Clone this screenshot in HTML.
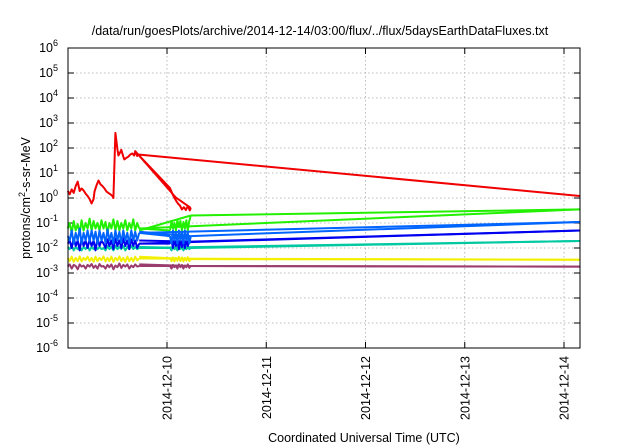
<!DOCTYPE html>
<html><head><meta charset="utf-8"><style>
body{margin:0;background:#fff}
svg{display:block;font-family:"Liberation Sans",sans-serif}
</style></head><body>
<svg id="chart" width="640" height="448" viewBox="0 0 640 448">
<text x="320" y="35" text-anchor="middle" font-size="12.5">/data/run/goesPlots/archive/2014-12-14/03:00/flux/../flux/5daysEarthDataFluxes.txt</text>
<g id="grid"></g>
<g id="axes"></g>
<g id="series"></g>
<rect x="68" y="48" width="512" height="300" fill="none" stroke="#000" stroke-width="1"/>
<text transform="translate(30,198) rotate(-90)" text-anchor="middle" font-size="12.5">protons/cm<tspan dy="-5" font-size="9">2</tspan><tspan dy="5">-s-sr-MeV</tspan></text>
<text x="364" y="442" text-anchor="middle" font-size="12.5">Coordinated Universal Time (UTC)</text>
</svg>
<script>
const xTickLabels=["2014-12-10","2014-12-11","2014-12-12","2014-12-13","2014-12-14"];
const xTickDays=[1,2,3,4,5];
const yExps=[-6,-5,-4,-3,-2,-1,0,1,2,3,4,5,6];
const tEnd=5.16;
const tEarly=[0,0.02,0.04,0.06,0.08,0.1,0.12,0.14,0.16,0.18,0.2,0.22,0.24,0.26,0.28,0.3,0.32,0.34,0.36,0.38,0.4,0.42,0.44,0.46,0.48,0.5,0.52,0.54,0.56,0.58,0.6,0.62,0.64,0.66,0.68,0.7,0.72];
const tLate=[1.03,1.045,1.06,1.075,1.09,1.105,1.12,1.135,1.15,1.165,1.18,1.195,1.21,1.225,1.24];
const redT=[0,0.02,0.04,0.06,0.08,0.1,0.12,0.14,0.16,0.18,0.2,0.22,0.24,0.26,0.27,0.29,0.31,0.33,0.35,0.37,0.39,0.41,0.43,0.45,0.46,0.48,0.5,0.51,0.53,0.54,0.56,0.57,0.59,0.61,0.63,0.65,0.67,0.68,0.7,0.71];
const redV=[1.9,1.4,2.2,1.6,3.0,4.5,1.9,2.4,2.0,1.5,1.2,0.9,0.6,0.9,1.8,3.2,5.0,3.5,3.0,2.4,1.8,1.6,1.4,1.2,1.0,400,90,50,70,85,45,35,40,45,55,60,50,75,48,55];
const redLateT=[1.03,1.05,1.07,1.09,1.11,1.13,1.15,1.17,1.19,1.21,1.23,1.24];
const redLateV=[2.5,1.6,1.1,0.8,0.6,0.5,0.35,0.43,0.33,0.48,0.32,0.4];
const redEnd=1.2;
const greenEarly=[0.06,0.1,0.04,0.12,0.05,0.09,0.04,0.13,0.05,0.1,0.06,0.15,0.05,0.12,0.06,0.1,0.05,0.13,0.06,0.11,0.04,0.1,0.06,0.14,0.05,0.12,0.05,0.1,0.06,0.13,0.05,0.1,0.06,0.14,0.05,0.1,0.06];
const greenLate=[0.05,0.12,0.06,0.1,0.05,0.13,0.07,0.12,0.05,0.11,0.06,0.13,0.05,0.12,0.2];
const greenEnd=0.35;
const lblueEarly=[0.03,0.02,0.05,0.015,0.04,0.02,0.06,0.015,0.04,0.02,0.05,0.018,0.05,0.02,0.045,0.015,0.05,0.02,0.04,0.016,0.055,0.02,0.04,0.015,0.05,0.02,0.045,0.016,0.05,0.02,0.04,0.015,0.05,0.02,0.045,0.02,0.04];
const lblueLate=[0.03,0.015,0.05,0.02,0.04,0.015,0.05,0.02,0.045,0.015,0.05,0.02,0.04,0.015,0.03];
const lblueEnd=0.11;
const blueEarly=[0.015,0.02,0.01,0.025,0.012,0.02,0.008,0.025,0.012,0.02,0.01,0.022,0.012,0.02,0.008,0.025,0.012,0.02,0.015,0.01,0.022,0.012,0.02,0.009,0.024,0.012,0.02,0.01,0.025,0.012,0.02,0.009,0.022,0.012,0.02,0.01,0.015];
const blueLate=[0.015,0.02,0.01,0.022,0.012,0.02,0.009,0.022,0.011,0.02,0.01,0.022,0.012,0.02,0.018];
const blueEnd=0.05;
const tealEarly=[0.011,0.009,0.012,0.008,0.011,0.009,0.012,0.008,0.011,0.009,0.012,0.008,0.011,0.009,0.012,0.009,0.011,0.009,0.01,0.008,0.012,0.009,0.011,0.008,0.012,0.009,0.011,0.009,0.012,0.008,0.011,0.009,0.012,0.009,0.011,0.009,0.01];
const tealLate=[0.01,0.008,0.011,0.009,0.01,0.008,0.011,0.009,0.011,0.008,0.01,0.009,0.011,0.009,0.01];
const tealEnd=0.019;
const yellowEarly=[0.004,0.003,0.0045,0.0028,0.004,0.003,0.0046,0.0029,0.004,0.0033,0.0045,0.003,0.004,0.0028,0.0045,0.003,0.004,0.0033,0.0046,0.0029,0.004,0.003,0.0045,0.0028,0.004,0.0032,0.0046,0.003,0.004,0.0028,0.0045,0.003,0.004,0.0029,0.0045,0.0032,0.0038];
const yellowLate=[0.0038,0.003,0.0042,0.0029,0.004,0.0031,0.0044,0.003,0.0042,0.0029,0.004,0.0031,0.0043,0.003,0.0036];
const yellowEnd=0.0034;
const purpleEarly=[0.0018,0.0022,0.0015,0.0021,0.0019,0.0014,0.0022,0.0018,0.002,0.0015,0.0021,0.0018,0.0023,0.0016,0.002,0.0015,0.0023,0.0018,0.0019,0.0015,0.0021,0.0017,0.0022,0.0014,0.002,0.0017,0.0024,0.0016,0.0021,0.0018,0.0022,0.0015,0.002,0.0017,0.0022,0.0018,0.0019];
const purpleLate=[0.0019,0.0015,0.0021,0.0017,0.002,0.0015,0.0022,0.0017,0.0021,0.0015,0.002,0.0017,0.0022,0.0016,0.0019];
const purpleEnd=0.0018;

const NS="http://www.w3.org/2000/svg";
const X=d=>167+(d-1)*99.25;
const Y=v=>198-25*Math.log10(v);
function mk(tag,attrs,parent){const e=document.createElementNS(NS,tag);for(const k in attrs)e.setAttribute(k,attrs[k]);parent.appendChild(e);return e;}
const grid=document.getElementById('grid'),axes=document.getElementById('axes'),ser=document.getElementById('series');
yExps.forEach(e=>{
  const y=198-25*e;
  if(e>-6&&e<6){const g=mk('line',{x1:68,x2:580,y1:y,y2:y,stroke:'#aaa','stroke-width':0.8,'stroke-dasharray':'1.5,2.5'},grid);
  
  }
  const t1=mk('line',{x1:68,x2:74,y1:y,y2:y,stroke:'#000'},axes);
  
  
  const t2=mk('line',{x1:574,x2:580,y1:y,y2:y,stroke:'#000'},axes);
  
  
  const tx=mk('text',{x:58,y:y+4,'text-anchor':'end','font-size':'12.5'},axes);
  
  
  tx.appendChild(document.createTextNode('10'));
  const sp=mk('tspan',{dy:-6,'font-size':'9'},tx);sp.textContent=String(e);
});
xTickDays.forEach((d,i)=>{
  const x=X(d);
  const g=mk('line',{x1:x,x2:x,y1:48,y2:348,stroke:'#aaa','stroke-width':0.8,'stroke-dasharray':'1.5,2.5'},grid);
  
  
  const t=mk('line',{x1:x,x2:x,y1:342,y2:348,stroke:'#000'},axes);
  
  
  const t2=mk('line',{x1:x,x2:x,y1:48,y2:54,stroke:'#000'},axes);
  
  
  const tx=mk('text',{transform:`translate(${x+4.5},356) rotate(-90)`,'text-anchor':'end','font-size':'12.5'},axes);
  
  
  tx.textContent=xTickLabels[i];
});
function pl(ts,vs,color,name){
  const p=mk('polyline',{points:ts.map((t,i)=>X(t).toFixed(1)+','+Y(vs[i]).toFixed(1)).join(' '),fill:'none',stroke:color,'stroke-width':2,'stroke-linejoin':'round'},ser);
  
  
}
function series(early,late,end,color,name){
  pl(tEarly,early,color,name+'-early');
  pl([tEarly[tEarly.length-1],tLate[0]],[early[early.length-1],late[0]],color,name+'-bridge');
  pl([tEarly[tEarly.length-1],tLate[tLate.length-1]],[early[early.length-3],late[late.length-1]],color,name+'-bridge2');
  pl(tLate,late,color,name+'-late');
  pl([tEarly[tEarly.length-1],tEnd],[early[early.length-1],end],color,name+'-to-end');
  pl([tLate[tLate.length-1],tEnd],[late[late.length-1],end],color,name+'-late-to-end');
}
series(purpleEarly,purpleLate,purpleEnd,'#9a3d6e','purple-series');
series(yellowEarly,yellowLate,yellowEnd,'#f2f000','yellow-series');
series(tealEarly,tealLate,tealEnd,'#00c8a0','teal-series');
series(greenEarly,greenLate,greenEnd,'#22f000','green-series');
series(blueEarly,blueLate,blueEnd,'#0000f0','blue-series');
series(lblueEarly,lblueLate,lblueEnd,'#0064ff','lightblue-series');
pl(redT,redV,'#f00000','red-early');
pl([redT[redT.length-1]].concat(redLateT),[redV[redV.length-1]].concat(redLateV),'#f00000','red-late');
pl([redT[redT.length-3],redLateT[3],redLateT[11]],[redV[redV.length-3],redLateV[3]*1.3,redLateV[11]],'#f00000','red-late-2');
pl([redT[redT.length-1],tEnd],[redV[redV.length-1],redEnd],'#f00000','red-to-end');
</script>
</body></html>
